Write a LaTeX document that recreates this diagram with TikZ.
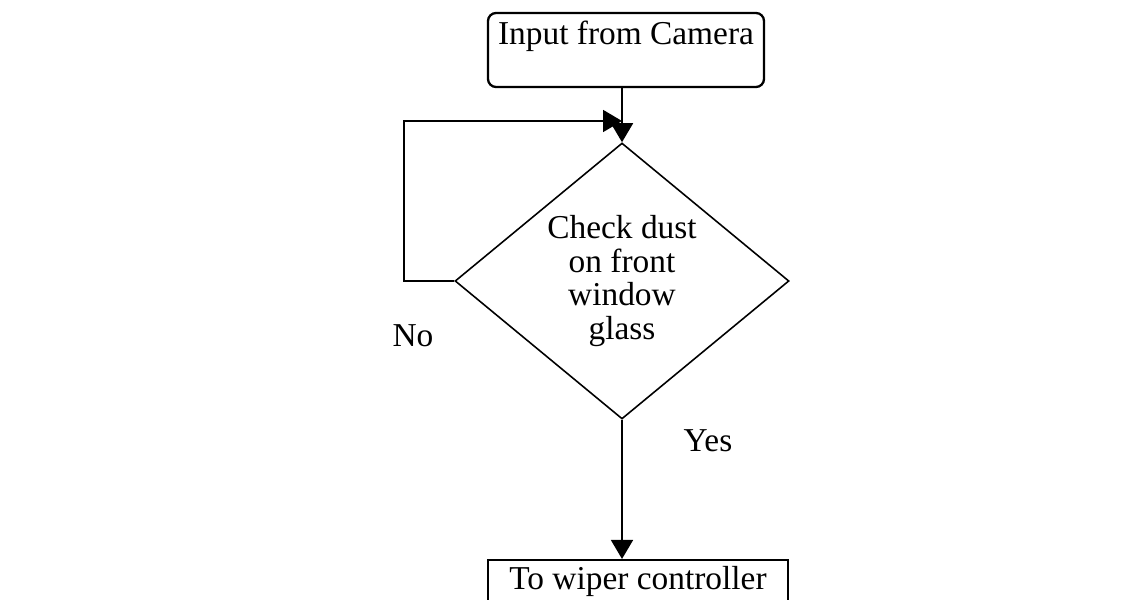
\documentclass[tikz,border=0pt]{standalone}
\usepackage{fontspec}
\setmainfont{Liberation Serif}
\usetikzlibrary{shapes.geometric,arrows.meta}

\begin{document}
\begin{tikzpicture}[auto,font=\fontsize{19pt}{19pt}\selectfont]

%
% Styles
%
\tikzstyle{startbox} = [rectangle,rounded corners=0.16cm,draw,line width=1.3pt,inner sep=0pt,minimum width=5.52cm,text height=0.64cm,text depth=0.84cm]
\tikzstyle{decision} = [diamond,draw,line width=0.9pt,inner sep=0pt,shape aspect=1.21,minimum width=6.68cm,minimum height=5.52cm,align=center]
\tikzstyle{endbox} = [rectangle,draw,line width=1.2pt,inner sep=0pt,minimum width=6cm,text height=0.58cm,text depth=0.5cm]
\tikzstyle{flow} = [-{Triangle[length=0.38cm,width=0.44cm]},line width=1pt]

\clip (0,0) rectangle (22.9,11.98);

\node[startbox,anchor=base] (cam) at (12.52,11.08) {Input from Camera};
\node[decision] (chk) at (12.44,6.36) {Check dust\\on front\\window\\glass};
\node[endbox,anchor=base] (wiper) at (12.76,0.2) {To wiper controller};

\node[anchor=base] (no) at (8.26,5.04) {No};
\node[anchor=base] (yes) at (14.16,2.94) {Yes};

\coordinate (back) at (8.08,9.56);

\draw[flow] (cam.south -| chk.north) -- (chk.north);
\draw[flow] (chk.west) -- (back |- chk.west) -- (back) -- (back -| chk.north);
\draw[flow] (chk.south) -- (chk.south |- wiper.north);

\end{tikzpicture}
\end{document}
